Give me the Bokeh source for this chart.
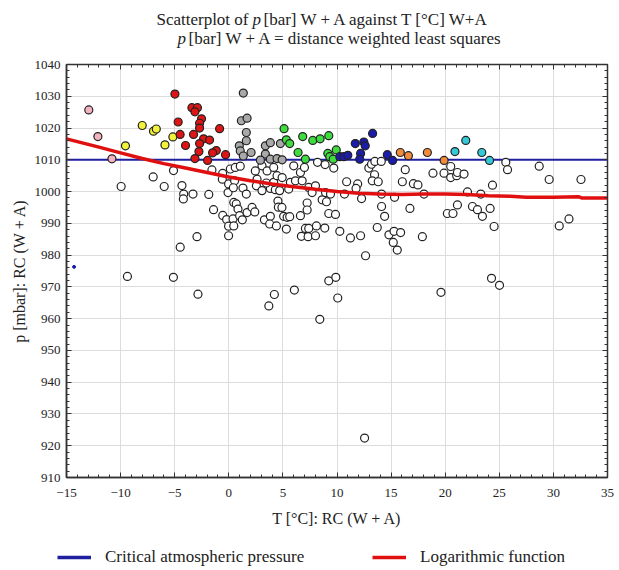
from bokeh.plotting import figure
from bokeh.models import (Label, LinearAxis, Range1d, Legend, LegendItem, FixedTicker)
from bokeh.layouts import column
from bokeh.embed import file_html
from bokeh.resources import INLINE

# ---------------- data ----------------
x_ticks = [-15, -10, -5, 0, 5, 10, 15, 20, 25, 30, 35]
y_ticks = [910, 920, 930, 940, 950, 960, 970, 980, 990, 1000, 1010, 1020, 1030, 1040]

critical_p = 1010.0

white_T = [-9.95, -6.99, -5.97, -5.11, -4.33, -4.17, -4.2, -3.31, -1.85, -1.56, -1.41, -0.57,
           -0.56, -0.2, -0.02, -0.02, -4.49, -2.94, -9.37, -5.12, -2.85, -0.6, -0.02, -0.07,
           0.14, 0.6, 1.06, 0.54, 0.42, 1.31, 1.62, 0.46, 0.69, 0.85, 0.39, 0.46, 1.0, 1.25,
           1.69, 2.15, 2.4, 3.29, 3.84, 3.78, 4.4, 4.54, 4.58, 4.91, 5.07, 5.39, 5.63, 5.32,
           6.62, 7.24, 7.24, 7.08, 7.39, 8.1, 6.71, 7.33, 8.01, 8.87, 9.24, 9.86, 10.26, 2.61,
           2.55, 3.07, 3.84, 4.3, 4.7, 3.47, 4.15, 5.54, 5.69, 6.16, 6.78, 7.39, 8.01, 7.7,
           8.63, 8.94, 9.03, 9.4, 2.45, 3.07, 3.54, 4.15, 4.46, 4.93, 6.0, 6.62, 6.99, 8.2,
           8.9, 9.7, 3.7, 4.21, 6.06, 8.41, 9.24, 9.89, 10.07,
           10.89, 11.91, 11.76, 10.69, 12.27, 12.94, 13.19, 13.5, 14.09, 13.47, 13.26, 13.81,
           14.12, 14.12, 14.4, 13.72, 12.64, 14.8, 15.27, 15.88, 15.2, 15.57, 15.32, 16.04,
           16.31, 17.06, 17.48, 16.74, 18.04, 17.89, 18.87, 19.89, 20.51, 20.51, 21.06, 21.13,
           21.74, 22.06, 23.29, 21.13, 20.2, 20.72, 22.52, 22.98, 23.44, 24.15, 24.37, 24.52,
           11.24, 12.18, 25.6, 25.76, 28.69, 29.61, 32.55, 30.54, 31.44, 12.55, 19.61, 24.28,
           25.02]
white_p = [1001.6, 1004.6, 1001.6, 1006.6, 1001.9, 999.2, 997.7, 999.2, 999.1, 1006.8, 994.3, 1005.7,
           992.5, 991.2, 989.1, 986.1, 982.5, 985.8, 973.3, 973.0, 967.7, 1003.9, 1002.4, 999.7,
           1007.1, 1007.6, 1008.0, 1003.4, 1001.2, 1001.1, 999.2, 996.6, 996.1, 994.5, 991.4, 989.2, 992.4, 991.1,
           993.4, 995.0, 993.6, 991.1, 992.2, 989.8, 989.2, 997.0, 995.1, 995.0, 992.2, 991.9, 992.1, 988.2,
           992.4, 996.4, 994.2, 988.4, 988.4, 989.2, 985.9, 985.8, 986.1, 988.5, 993.1, 992.8, 987.5, 1003.9,
           1001.8, 1000.3, 1001.0, 1000.6, 1000.3, 1002.7, 1002.9, 1000.8, 1002.9, 1003.4, 1003.4, 1001.3, 1001.8, 999.7,
           997.4, 999.7, 996.8, 999.2, 1006.5, 1008.1, 1006.5, 1007.6, 1005.0, 1004.4, 1008.1, 1006.0, 1007.6, 1009.2,
           1008.5, 1007.4, 964.0, 967.6, 969.0, 959.8, 971.9, 973.0, 966.5,
           1003.1, 1002.4, 1001.0, 999.2, 997.8, 1007.4, 1008.6, 1009.5, 1009.5, 1005.3, 1003.4, 1003.1,
           999.2, 995.3, 992.2, 988.7, 979.8, 986.4, 987.5, 987.1, 984.0, 981.6, 998.2, 1003.1,
           1006.9, 1002.5, 1002.1, 994.7, 999.2, 985.8, 1005.8, 1005.8, 1007.9, 1004.4, 1005.0, 1006.0,
           1005.5, 999.9, 999.2, 995.8, 993.1, 993.1, 995.3, 994.3, 992.2, 994.7, 1002.0, 989.0,
           985.4, 986.1, 1009.2, 1006.9, 1008.0, 1003.8, 1003.8, 989.2, 991.4, 922.4, 968.3, 972.7,
           970.5]

gray_T = [1.34, 1.16, 1.69, 1.62, 0.97, 1.62, 1.06, 2.06, 3.38, 3.84, 4.77, 3.38, 2.92, 3.84, 4.46, 4.93, 1.34]
gray_p = [1031.0, 1022.3, 1023.1, 1018.6, 1014.4, 1016.0, 1012.8, 1012.3, 1014.4, 1015.4, 1015.1,
          1011.8, 1009.9, 1010.2, 1010.4, 1010.0, 1011.2]

pink_T = [-12.94, -12.1, -10.8]
pink_p = [1025.7, 1017.3, 1010.3]

yellow_T = [-8.0, -6.96, -6.7, -9.55, -5.9, -5.17]
yellow_p = [1020.8, 1019.0, 1019.7, 1014.4, 1014.7, 1017.2]

red_T = [-4.98, -3.41, -2.9, -3.13, -2.52, -2.7, -2.7, -4.68, -0.85, -4.5, -3.26, -2.33, -1.78,
         -2.7, -4.0, -2.76, -1.16, -1.5, -0.3, -3.13, -1.96]
red_p = [1030.7, 1026.4, 1026.4, 1025.1, 1022.9, 1021.5, 1020.0, 1021.9, 1019.8, 1018.0, 1018.0,
         1016.6, 1016.2, 1015.1, 1014.5, 1012.6, 1012.9, 1012.2, 1011.6, 1010.4, 1009.8]

green_T = [5.11, 5.32, 5.63, 6.83, 7.76, 8.44, 9.24, 6.4, 7.08, 9.15, 9.33, 9.65, 9.93]
green_p = [1019.8, 1016.3, 1015.1, 1017.3, 1016.1, 1016.6, 1017.6, 1012.3, 1010.2, 1012.0, 1011.0,
           1010.2, 1013.1]

blue_T = [10.26, 10.63, 11.0, 11.69, 12.48, 12.61, 12.18, 12.1, 13.29, 14.65, 15.14]
blue_p = [1011.0, 1011.0, 1011.4, 1015.1, 1015.6, 1014.4, 1012.0, 1010.2, 1018.3, 1011.6, 1009.8]

orange_T = [15.85, 16.6, 18.35, 19.9]
orange_p = [1012.3, 1011.3, 1012.3, 1009.8]

cyan_T = [21.9, 20.9, 23.38, 24.1]
cyan_p = [1016.1, 1012.6, 1012.3, 1009.8]

dot_T = [-14.3]
dot_p = [976.3]

fit_T = [-15, -12, -10, -8, -6, -4, -2, 0, 2, 4, 6, 8, 10, 12, 14, 16, 18, 20, 22, 24,
         26, 27.5, 30, 32.3, 32.6, 35]
fit_p = [1016.6, 1014.0, 1012.2, 1010.4, 1008.8, 1007.4, 1006.0, 1004.6, 1003.4, 1002.4,
         1001.5, 1000.7, 1000.0, 999.5, 999.2, 999.1, 999.2, 999.2, 999.1, 998.7,
         998.5, 998.2, 998.2, 998.4, 998.0, 998.0]

legend_labels = ["Critical atmospheric pressure", "Logarithmic function"]

# ---------------- styling ----------------
SERIF = "Liberation Serif"
INK = "#222222"
FRAME = "#333333"
BLUE = "#1f1fa0"
RED = "#e01010"
W = 619
HEAD_H = 48
LEG_H = 30
MAIN_H = 570 - HEAD_H - LEG_H

x_minor = list(range(-15, 36))
y_minor = list(range(910, 1041, 2))

# ---------------- header (title) ----------------
head = figure(width=W, height=HEAD_H, output_backend="svg", toolbar_location=None,
              x_axis_type=None, y_axis_type=None, min_border=0, title_location=None,
              x_range=Range1d(0, 1), y_range=Range1d(0, 1))
head.frame_align = False
head.outline_line_color = None
head.grid.visible = False

def lab(fig, x, y, text, style="normal", size="17px", align="left"):
    fig.add_layout(Label(x=x, y=y, x_units="screen", y_units="screen", text=text,
                         text_font=SERIF, text_font_size=size, text_font_style=style,
                         text_align=align, text_baseline="middle", text_color=INK))

lab(head, 248, HEAD_H - 19, "Scatterplot of", align="right")
lab(head, 252, HEAD_H - 19, "p", style="italic")
lab(head, 263, HEAD_H - 19, "[bar] W + A against T [°C] W+A")
lab(head, 177, HEAD_H - 38, "p", style="italic")
lab(head, 188, HEAD_H - 38, "[bar] W + A = distance weighted least squares")

# ---------------- main plot ----------------
p = figure(width=W, height=MAIN_H, x_range=Range1d(-15, 35), y_range=Range1d(910, 1040),
           output_backend="svg", toolbar_location=None, title_location=None,
           min_border_left=66, min_border_right=12, min_border_top=64 - HEAD_H,
           min_border_bottom=MAIN_H - (64 - HEAD_H) - 413)
p.frame_align = False
p.background_fill_color = "white"
p.border_fill_color = "white"
p.outline_line_color = FRAME
p.outline_line_width = 1.5

for ax, tk in ((p.xaxis[0], FixedTicker(ticks=x_ticks, minor_ticks=x_minor)),
               (p.yaxis[0], FixedTicker(ticks=y_ticks, minor_ticks=y_minor))):
    ax.ticker = tk
    ax.major_label_text_font = SERIF
    ax.major_label_text_font_size = "13px"
    ax.major_label_text_color = INK
    ax.axis_line_color = FRAME
    ax.axis_line_width = 1.5
    ax.major_tick_in = 5
    ax.major_tick_out = 0
    ax.minor_tick_in = 3
    ax.minor_tick_out = 0
    ax.major_tick_line_color = FRAME
    ax.minor_tick_line_color = FRAME
    ax.axis_label_text_font = SERIF
    ax.axis_label_text_font_size = "16px"
    ax.axis_label_text_font_style = "normal"
    ax.axis_label_text_color = INK

p.xaxis.major_label_overrides = {t: ("\u2212" + str(abs(t)) if t < 0 else str(t)) for t in x_ticks}
p.xaxis.major_label_standoff = 11
p.yaxis.major_label_standoff = 6
p.xaxis.axis_label = "T [°C]: RC (W + A)"
p.xaxis.axis_label_standoff = 10
p.yaxis.axis_label = "p [mbar]: RC (W + A)"
p.yaxis.axis_label_standoff = 4

p.xgrid.ticker = FixedTicker(ticks=x_ticks)
p.ygrid.ticker = FixedTicker(ticks=y_ticks)
p.grid.grid_line_color = "#dcdcdc"
p.grid.grid_line_width = 1

def tick_axis(ticks, minor):
    return LinearAxis(ticker=FixedTicker(ticks=ticks, minor_ticks=minor),
                      major_label_overrides={t: "" for t in ticks},
                      major_label_standoff=0, major_tick_in=5, major_tick_out=0,
                      minor_tick_in=3, minor_tick_out=0, axis_line_color=FRAME,
                      major_tick_line_color=FRAME, minor_tick_line_color=FRAME)

p.add_layout(tick_axis(x_ticks, x_minor), "above")
p.add_layout(tick_axis(y_ticks, y_minor), "right")

p.line([-15, 35], [critical_p, critical_p], line_color=BLUE, line_width=2)

def pts(T, P, fill):
    p.scatter(T, P, size=8, marker="circle", fill_color=fill, line_color=INK,
              line_width=1.2)

pts(white_T, white_p, "white")
pts(gray_T, gray_p, "#a9a9a9")
pts(pink_T, pink_p, "#f3b3c0")
pts(yellow_T, yellow_p, "#f2f23a")
pts(red_T, red_p, "#dd1515")
pts(green_T, green_p, "#3fdc3f")
pts(blue_T, blue_p, "#1c1caa")
pts(orange_T, orange_p, "#f08a3c")
pts(cyan_T, cyan_p, "#35c8d6")
p.scatter(dot_T, dot_p, size=3, marker="circle", fill_color="#1c1caa", line_color="#1c1caa")

p.line(fit_T, fit_p, line_color=RED, line_width=3.5)

# ---------------- legend strip ----------------
# ranges chosen so the proxy series fall outside the view; only the legend shows
leg = figure(width=W, height=LEG_H, output_backend="svg", toolbar_location=None,
             x_axis_type=None, y_axis_type=None, min_border=0, title_location=None,
             x_range=Range1d(100, 101), y_range=Range1d(0, 1))
leg.frame_align = False
leg.outline_line_color = None
leg.grid.visible = False
r_blue = leg.line([-15, 35], [critical_p, critical_p], line_color=BLUE, line_width=3.5)
r_red = leg.line(fit_T, fit_p, line_color=RED, line_width=3.5)
legend = Legend(items=[LegendItem(label=legend_labels[0], renderers=[r_blue]),
                       LegendItem(label=legend_labels[1], renderers=[r_red])],
                orientation="horizontal", location=(57, 3), padding=0, margin=0,
                spacing=67, glyph_width=34, glyph_height=20, label_height=20,
                label_width=200, label_standoff=14,
                label_text_font=SERIF, label_text_font_size="17px",
                label_text_color=INK, border_line_color=None,
                background_fill_alpha=0)
leg.add_layout(legend, "center")

layout = column(head, p, leg, spacing=0)
open("out.html", "w").write(file_html(layout, INLINE))
